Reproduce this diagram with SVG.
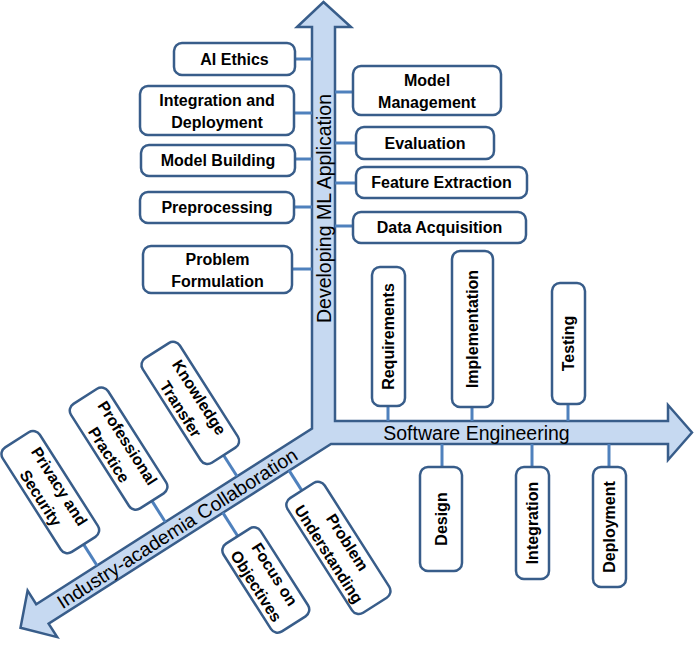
<svg xmlns="http://www.w3.org/2000/svg" width="698" height="646" viewBox="0 0 698 646">
<style>
.box{fill:#fff;stroke:#385d8a;stroke-width:2.5}
.lbl{font-family:"Liberation Sans",Arial,sans-serif;font-weight:bold;font-size:16px;text-anchor:middle;fill:#000}
.ax{font-family:"Liberation Sans",Arial,sans-serif;font-size:19.5px;text-anchor:middle;fill:#000}
.conn line{stroke:#4f81bd;stroke-width:3}
.arrow{fill:#c6d9f1;stroke:#385d8a;stroke-width:2.5;stroke-linejoin:miter}
</style>
<g id="axes">
<path class="arrow" d="M323.5,2 L351,27 L335,27 L335,421 L668,421 L668,405 L692,432.5 L668,460 L668,444 L331,444 L48.6,623.6 L57.2,637.1 L20.5,627.8 L27.6,590.7 L36.2,604.2 L312,428.5 L312,27 L297,27 Z"/>
<text class="ax" transform="translate(331,208.5) rotate(-90)">Developing ML Application</text>
<text class="ax" x="476.5" y="440">Software Engineering</text>
<text class="ax" transform="translate(180.8,534.1) rotate(-32.5)">Industry-academia Collaboration</text>
</g>
<g class="conn" id="connectors">
<line x1="295" y1="59" x2="312" y2="59"/>
<line x1="294" y1="113" x2="312" y2="113"/>
<line x1="295" y1="159" x2="312" y2="159"/>
<line x1="294" y1="207" x2="312" y2="207"/>
<line x1="292" y1="269" x2="312" y2="269"/>
<line x1="335" y1="92" x2="353" y2="92"/>
<line x1="335" y1="143" x2="356" y2="143"/>
<line x1="335" y1="183" x2="356" y2="183"/>
<line x1="335" y1="226" x2="353" y2="226"/>
<line x1="388" y1="406" x2="388" y2="421"/>
<line x1="472" y1="407" x2="472" y2="421"/>
<line x1="568" y1="404" x2="568" y2="421"/>
<line x1="442" y1="444" x2="442" y2="467"/>
<line x1="532" y1="444" x2="532" y2="467"/>
<line x1="609" y1="444" x2="609" y2="467"/>
<line x1="83.6" y1="544.4" x2="97" y2="565.5"/>
<line x1="151.9" y1="500.9" x2="165.3" y2="522"/>
<line x1="223.6" y1="455.2" x2="237" y2="476.3"/>
<line x1="222.8" y1="512.6" x2="237.8" y2="536.2"/>
<line x1="289" y1="470.4" x2="301.9" y2="490.6"/>
</g>
<g id="ai-ethics"><rect class="box" x="174" y="43" width="121" height="32" rx="8"/><text class="lbl" x="234.5" y="64.7">AI Ethics</text></g>
<g id="integration-deployment"><rect class="box" x="140" y="86" width="154" height="49" rx="8"/><text class="lbl" x="217" y="105.5">Integration and</text><text class="lbl" x="217" y="127.5">Deployment</text></g>
<g id="model-building"><rect class="box" x="141" y="145" width="154" height="31" rx="8"/><text class="lbl" x="218" y="166.2">Model Building</text></g>
<g id="preprocessing"><rect class="box" x="140" y="192" width="154" height="31" rx="8"/><text class="lbl" x="217" y="213.2">Preprocessing</text></g>
<g id="problem-formulation"><rect class="box" x="143" y="246" width="149" height="47" rx="8"/><text class="lbl" x="217.5" y="264.5">Problem</text><text class="lbl" x="217.5" y="286.5">Formulation</text></g>
<g id="model-management"><rect class="box" x="353" y="66" width="148" height="49" rx="8"/><text class="lbl" x="427" y="85.5">Model</text><text class="lbl" x="427" y="107.5">Management</text></g>
<g id="evaluation"><rect class="box" x="356" y="127" width="138" height="32" rx="8"/><text class="lbl" x="425" y="148.7">Evaluation</text></g>
<g id="feature-extraction"><rect class="box" x="356" y="167" width="171" height="31" rx="8"/><text class="lbl" x="441.5" y="188.2">Feature Extraction</text></g>
<g id="data-acquisition"><rect class="box" x="353" y="212" width="173" height="31" rx="8"/><text class="lbl" x="439.5" y="233.2">Data Acquisition</text></g>
<g id="requirements"><rect class="box" x="372" y="267" width="33" height="139" rx="8"/><text class="lbl" transform="translate(388.5,336.5) rotate(-90)" y="5.7">Requirements</text></g>
<g id="implementation"><rect class="box" x="452" y="251" width="41" height="156" rx="8"/><text class="lbl" transform="translate(472.5,329) rotate(-90)" y="5.7">Implementation</text></g>
<g id="testing"><rect class="box" x="552" y="283" width="33" height="121" rx="8"/><text class="lbl" transform="translate(568.5,343.5) rotate(-90)" y="5.7">Testing</text></g>
<g id="design"><rect class="box" x="420" y="467" width="42" height="104" rx="8"/><text class="lbl" transform="translate(441,519) rotate(-90)" y="5.7">Design</text></g>
<g id="integration"><rect class="box" x="516" y="467" width="33" height="112" rx="8"/><text class="lbl" transform="translate(532.5,523) rotate(-90)" y="5.7">Integration</text></g>
<g id="deployment"><rect class="box" x="593" y="467" width="33" height="120" rx="8"/><text class="lbl" transform="translate(609.5,527) rotate(-90)" y="5.7">Deployment</text></g>
<g id="privacy-security" transform="translate(50.3,492.1) rotate(57.5)"><rect class="box" x="-62" y="-22" width="124" height="44" rx="8"/><text class="lbl" y="-5">Privacy and</text><text class="lbl" y="17">Security</text></g>
<g id="professional-practice" transform="translate(118.6,448.6) rotate(57.5)"><rect class="box" x="-62" y="-22" width="124" height="44" rx="8"/><text class="lbl" y="-5">Professional</text><text class="lbl" y="17">Practice</text></g>
<g id="knowledge-transfer" transform="translate(190.3,402.9) rotate(57.5)"><rect class="box" x="-62" y="-22" width="124" height="44" rx="8"/><text class="lbl" y="-5">Knowledge</text><text class="lbl" y="17">Transfer</text></g>
<g id="focus-objectives" transform="translate(265.8,580) rotate(57.5)"><rect class="box" x="-52" y="-22" width="104" height="44" rx="8"/><text class="lbl" y="-5">Focus on</text><text class="lbl" y="17">Objectives</text></g>
<g id="problem-understanding" transform="translate(338.4,547.9) rotate(57.5)"><rect class="box" x="-68" y="-22" width="136" height="44" rx="8"/><text class="lbl" y="-5">Problem</text><text class="lbl" y="17">Understanding</text></g>
</svg>
